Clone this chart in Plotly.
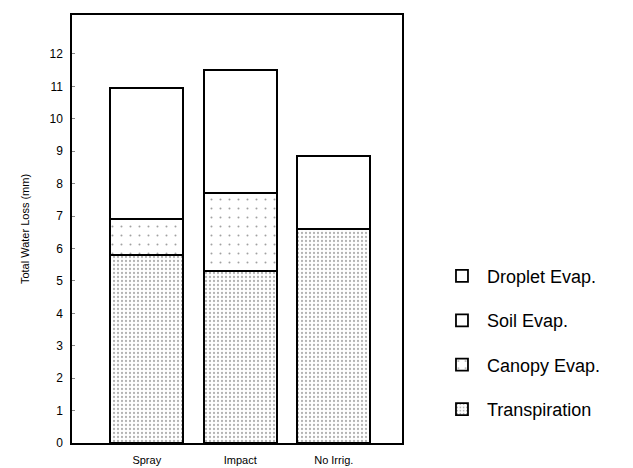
import plotly.graph_objects as go

categories = ["Spray", "Impact", "No Irrig."]
transpiration = [5.8, 5.3, 6.6]
canopy_evap = [1.1, 2.4, 0.0]
soil_evap = [0.0, 0.0, 2.25]
droplet_evap = [4.05, 3.8, 0.0]
y_ticks = list(range(0, 13))

FONT = "Liberation Sans, Arial, sans-serif"
line = dict(color="black", width=1.8)

fig = go.Figure()
fig.add_bar(x=categories, y=transpiration, name="Transpiration", legendgroup="t", legendrank=4,
            marker=dict(color="white", line=line,
                        pattern=dict(shape=".", size=4, solidity=0.25, fgcolor="#666", bgcolor="white")))
fig.add_bar(x=categories, y=canopy_evap, name="Canopy Evap.", legendgroup="c", legendrank=3,
            marker=dict(color="white", line=line,
                        pattern=dict(shape=".", size=9, solidity=0.04, fgcolor="#444", bgcolor="white")))
fig.add_bar(x=categories, y=soil_evap, name="Soil Evap.", legendgroup="s", legendrank=2,
            marker=dict(color="white", line=line))
fig.add_bar(x=categories, y=droplet_evap, name="Droplet Evap.", legendgroup="d", legendrank=1,
            marker=dict(color="white", line=line))

fig.update_layout(
    width=625, height=460,
    margin=dict(l=64, r=231, t=7, b=25, autoexpand=False),
    barmode="stack", bargap=0.22,
    plot_bgcolor="white", paper_bgcolor="white",
    font=dict(family=FONT, size=11, color="black"),
    showlegend=True,
    legend=dict(x=1.106, y=0.433, xanchor="left", yanchor="top",
                traceorder="grouped", tracegroupgap=18,
                font=dict(size=18, family=FONT), itemwidth=40,
                bgcolor="rgba(0,0,0,0)"),
)
fig.update_xaxes(range=[-0.8, 2.73], showline=True, linecolor="black", linewidth=1.5,
                 mirror=True, ticks="", showgrid=False, tickfont=dict(size=11), automargin=False,
                 ticklabelstandoff=6)
fig.update_yaxes(range=[0, 13.2], tickvals=y_ticks, showline=True, linecolor="black",
                 linewidth=1.5, mirror=True, ticks="inside", ticklen=3, tickcolor="#888",
                 showgrid=False, zeroline=False, tickfont=dict(size=12), automargin=False,
                 ticklabelstandoff=5,
                 title=dict(text="Total Water Loss (mm)", font=dict(size=11), standoff=18))

fig.write_html("out.html")
